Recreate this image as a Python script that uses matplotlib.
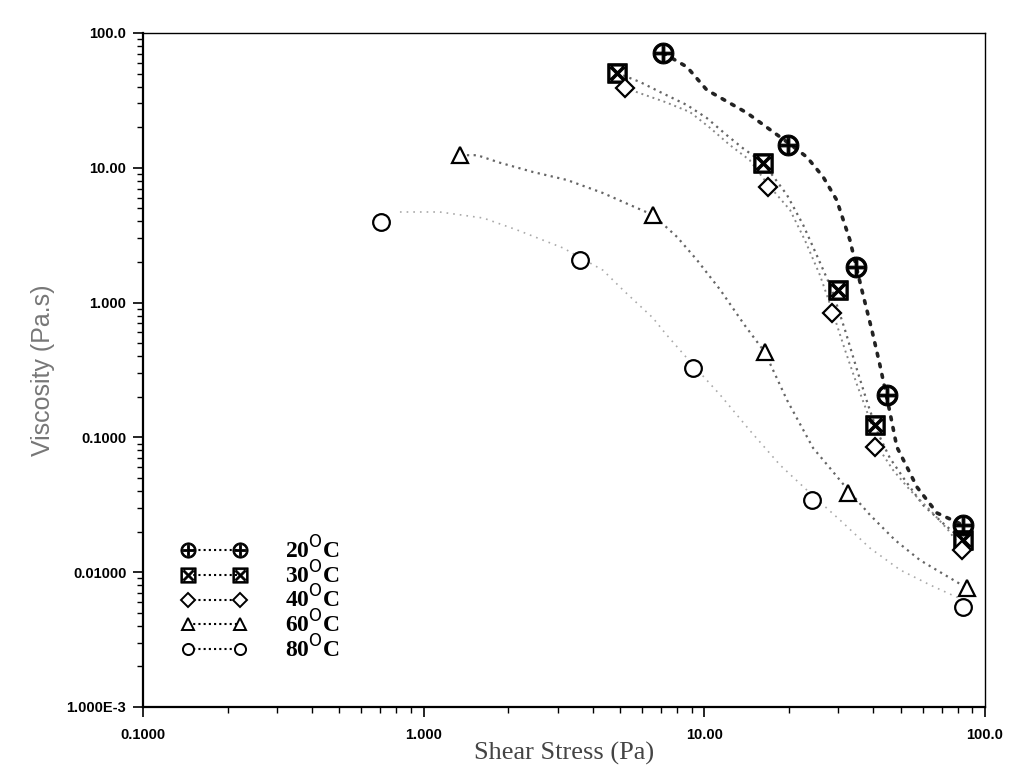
import numpy as np
import matplotlib
matplotlib.use("Agg")
import matplotlib.pyplot as plt
from matplotlib.ticker import FixedLocator, FixedFormatter, LogLocator, NullFormatter

# measured points (shear stress Pa, viscosity Pa.s)
x20 = [7.12, 19.9, 34.7, 44.7, 83.4]
y20 = [71.1, 14.8, 1.84, 0.206, 0.0224]
x30 = [4.88, 16.2, 29.9, 40.6, 83.4]
y30 = [50.5, 10.9, 1.24, 0.124, 0.0173]
x40 = [5.21, 16.9, 28.5, 40.6, 82.8]
y40 = [39.1, 7.2, 0.838, 0.085, 0.0146]
x60 = [1.35, 6.56, 16.4, 32.5, 86.2]
y60 = [12.4, 4.47, 0.43, 0.0387, 0.00763]
x80 = [0.705, 3.61, 9.1, 24.2, 83.4]
y80 = [3.96, 2.07, 0.327, 0.0344, 0.00552]

# dotted fit curves
cx20 = [7.12, 8.67, 10.2, 14.2, 19.9, 23.2, 26.5, 29.6, 33.0, 36.4, 39.5, 42.2, 45.8, 48.5, 52.7, 57.2, 67.4, 83.4]
cy20 = [71.1, 56.0, 37.8, 25.5, 15.3, 12.0, 8.55, 5.77, 2.91, 1.24, 0.627, 0.345, 0.154, 0.0849, 0.0603, 0.0428, 0.0275, 0.0224]
cx30 = [4.88, 5.90, 6.95, 8.67, 10.2, 12.0, 13.7, 16.2, 19.7, 22.5, 25.4, 28.5, 31.7, 35.0, 38.3, 41.5, 45.8, 51.8, 60.1, 72.0, 83.4]
cy30 = [50.5, 43.3, 36.5, 29.2, 23.4, 17.5, 14.0, 10.9, 6.28, 3.76, 2.14, 1.24, 0.626, 0.316, 0.174, 0.108, 0.0703, 0.0483, 0.0315, 0.0224, 0.0173]
cx40 = [5.21, 6.14, 7.24, 8.89, 10.5, 12.3, 14.5, 16.9, 20.2, 22.8, 25.8, 28.5, 31.7, 35.0, 38.9, 42.2, 47.0, 54.0, 63.7, 73.8, 82.7]
cy40 = [39.1, 34.7, 30.8, 25.9, 19.7, 14.8, 11.4, 7.45, 4.86, 2.91, 1.60, 0.881, 0.445, 0.245, 0.135, 0.0806, 0.0573, 0.0407, 0.0289, 0.0206, 0.0151]
cx60 = [1.35, 1.55, 1.87, 2.45, 3.24, 4.35, 5.43, 6.56, 7.99, 9.41, 11.4, 13.9, 16.4, 19.7, 24.4, 28.0, 32.5, 38.9, 47.8, 58.6, 72.0, 86.2]
cy60 = [12.4, 12.4, 10.9, 9.31, 8.12, 6.50, 5.30, 4.47, 3.07, 2.07, 1.24, 0.682, 0.430, 0.189, 0.0834, 0.0593, 0.0407, 0.0266, 0.0173, 0.0123, 0.00953, 0.00763]
cx80 = [0.823, 1.14, 1.63, 2.15, 3.14, 4.35, 5.13, 5.75, 6.56, 7.24, 9.11, 11.4, 14.5, 18.6, 24.2, 30.4, 38.9, 49.8, 63.7, 83.4]
cy80 = [4.70, 4.70, 4.24, 3.46, 2.54, 1.74, 1.24, 0.993, 0.769, 0.595, 0.344, 0.206, 0.113, 0.0624, 0.0374, 0.0244, 0.0151, 0.0104, 0.00804, 0.00622]

labels = ["20$^{\\mathrm{O}}$C", "30$^{\\mathrm{O}}$C", "40$^{\\mathrm{O}}$C", "60$^{\\mathrm{O}}$C", "80$^{\\mathrm{O}}$C"]
xticks = [0.1, 1, 10, 100]
xticklabels = ["0.1000", "1.000", "10.00", "100.0"]
yticks = [1e-3, 1e-2, 0.1, 1, 10, 100]
yticklabels = ["1.000E-3", "0.01000", "0.1000", "1.000", "10.00", "100.0"]

fig = plt.figure(figsize=(10.1, 7.8), dpi=100)
ax = fig.add_axes([0.1416, 0.0936, 0.8337, 0.8641])

# curves
ax.plot(cx20, cy20, color="#222222", lw=2.6, ls=(0, (0.8, 2.2)), dash_capstyle="round")
ax.plot(cx30, cy30, color="#666666", lw=1.6, ls=(0, (1, 2)))
ax.plot(cx40, cy40, color="#888888", lw=1.4, ls=(0, (1, 2)))
ax.plot(cx60, cy60, color="#666666", lw=1.6, ls=(0, (1, 2)))
ax.plot(cx80, cy80, color="#aaaaaa", lw=1.2, ls=(0, (1, 3)))

# markers
mk = dict(ls="none", mec="black", mfc="white", mew=1.6)
ax.plot(x20, y20, marker="$\\oplus$", ms=15, mew=0.8, ls="none", color="black")
ax.plot(x30, y30, marker="$\\boxtimes$", ms=14, mew=0.8, ls="none", color="black")
ax.plot(x40, y40, marker="D", ms=9, **mk)
ax.plot(x60, y60, marker="^", ms=11, **mk)
ax.plot(x80, y80, marker="o", ms=12, **mk)

# legend handles: marker ... marker
h = []
h.append(ax.plot([], [], marker="$\\oplus$", ms=11, mew=0.6, color="black", lw=1.5, ls=(0, (1, 1.5)))[0])
h.append(ax.plot([], [], marker="$\\boxtimes$", ms=11, mew=0.6, color="black", lw=1.5, ls=(0, (1, 1.5)))[0])
h.append(ax.plot([], [], marker="D", ms=7, mec="black", mfc="white", mew=1.4, color="black", lw=1.5, ls=(0, (1, 1.5)))[0])
h.append(ax.plot([], [], marker="^", ms=8, mec="black", mfc="white", mew=1.4, color="black", lw=1.5, ls=(0, (1, 1.5)))[0])
h.append(ax.plot([], [], marker="o", ms=8, mec="black", mfc="white", mew=1.4, color="black", lw=1.5, ls=(0, (1, 1.5)))[0])
leg = ax.legend(h, labels, loc="lower left", bbox_to_anchor=(0.02, 0.035), frameon=False,
                numpoints=2, handlelength=2.8, handletextpad=1.6, labelspacing=-0.11,
                prop={"family": "Liberation Serif", "weight": "bold", "size": 17})

ax.set_xscale("log")
ax.set_yscale("log")
ax.set_xlim(0.1, 100)
ax.set_ylim(1e-3, 100)

ax.xaxis.set_major_locator(FixedLocator(xticks))
ax.xaxis.set_major_formatter(FixedFormatter(xticklabels))
ax.yaxis.set_major_locator(FixedLocator(yticks))
ax.yaxis.set_major_formatter(FixedFormatter(yticklabels))
ax.xaxis.set_minor_locator(LogLocator(base=10, subs=np.arange(2, 10)))
ax.yaxis.set_minor_locator(LogLocator(base=10, subs=np.arange(2, 10)))
ax.xaxis.set_minor_formatter(NullFormatter())
ax.yaxis.set_minor_formatter(NullFormatter())
ax.tick_params(which="major", direction="out", length=7, width=1.2, labelsize=10.5, pad=5)
ax.tick_params(which="minor", direction="out", length=4, width=1.0)
ax.tick_params(axis="x", which="major", pad=8)
for lab in ax.get_xticklabels() + ax.get_yticklabels():
    lab.set_family("Liberation Sans")
    lab.set_weight("bold")

for s in ["left", "bottom"]:
    ax.spines[s].set_linewidth(1.6)
for s in ["top", "right"]:
    ax.spines[s].set_linewidth(1.0)

ax.set_xlabel("Shear Stress (Pa)", family="Liberation Serif", fontsize=19, color="#444444", labelpad=0)
ax.set_ylabel("Viscosity (Pa.s)", family="Liberation Sans", fontsize=18, color="#777777", labelpad=8)

fig.savefig("out.png", dpi=100)
